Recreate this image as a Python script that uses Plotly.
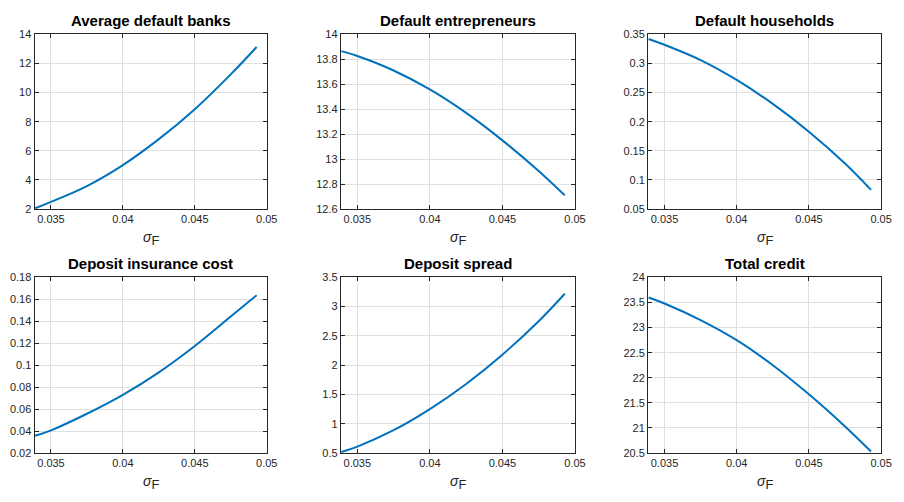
import plotly.graph_objects as go

sigma_f = [0.0339, 0.035, 0.0375, 0.04, 0.0425, 0.045, 0.0475, 0.0493]

avg_default_banks = [2.05, 2.49, 3.58, 5.02, 6.80, 8.86, 11.25, 13.13]
default_entrepreneurs = [13.865, 13.826, 13.71, 13.558, 13.37, 13.15, 12.905, 12.71]
default_households = [0.342, 0.332, 0.3058, 0.2717, 0.2305, 0.1828, 0.128, 0.0828]
deposit_insurance_cost = [0.0357, 0.0407, 0.0558, 0.0730, 0.0935, 0.1175, 0.1443, 0.1637]
deposit_spread = [0.517, 0.61, 0.89, 1.25, 1.68, 2.18, 2.75, 3.22]
total_credit = [23.60, 23.48, 23.15, 22.75, 22.25, 21.67, 21.03, 20.53]

titles = ["Average default banks", "Default entrepreneurs", "Default households",
          "Deposit insurance cost", "Deposit spread", "Total credit"]
series = [avg_default_banks, default_entrepreneurs, default_households,
          deposit_insurance_cost, deposit_spread, total_credit]

x_tickvals = [0.035, 0.04, 0.045, 0.05]
x_ticktext = ["0.035", "0.04", "0.045", "0.05"]

y_ticks = [
    [2, 4, 6, 8, 10, 12, 14],
    [12.6, 12.8, 13, 13.2, 13.4, 13.6, 13.8, 14],
    [0.05, 0.1, 0.15, 0.2, 0.25, 0.3, 0.35],
    [0.02, 0.04, 0.06, 0.08, 0.1, 0.12, 0.14, 0.16, 0.18],
    [0.5, 1, 1.5, 2, 2.5, 3, 3.5],
    [20.5, 21, 21.5, 22, 22.5, 23, 23.5, 24],
]
y_ticktext = [
    ["2", "4", "6", "8", "10", "12", "14"],
    ["12.6", "12.8", "13", "13.2", "13.4", "13.6", "13.8", "14"],
    ["0.05", "0.1", "0.15", "0.2", "0.25", "0.3", "0.35"],
    ["0.02", "0.04", "0.06", "0.08", "0.1", "0.12", "0.14", "0.16", "0.18"],
    ["0.5", "1", "1.5", "2", "2.5", "3", "3.5"],
    ["20.5", "21", "21.5", "22", "22.5", "23", "23.5", "24"],
]

W, H = 904, 502
col_px = [(35, 270), (345, 582), (656, 892)]
row_px = [(29, 208), (278, 458)]

fig = go.Figure()
axis_color = "#262626"
grid_color = "#e0e0e0"
font_family = "Liberation Sans, Arial, sans-serif"

annotations = []
for i in range(6):
    r, c = divmod(i, 3)
    n = i + 1
    xa = "xaxis" if n == 1 else f"xaxis{n}"
    ya = "yaxis" if n == 1 else f"yaxis{n}"
    xref = "x" if n == 1 else f"x{n}"
    yref = "y" if n == 1 else f"y{n}"
    x0, x1 = col_px[c]
    y0, y1 = row_px[r]
    fig.add_trace(go.Scatter(x=sigma_f, y=series[i], mode="lines",
                             line=dict(color="#0072BD", width=2, shape="spline", smoothing=1.0),
                             xaxis=xref, yaxis=yref, showlegend=False, hoverinfo="skip"))
    yt = y_ticks[i]
    common = dict(showline=True, linecolor=axis_color, linewidth=1, mirror="ticks",
                  ticks="inside", ticklen=4, tickcolor=axis_color, tickwidth=1,
                  showgrid=True, gridcolor=grid_color, gridwidth=1, zeroline=False,
                  tickfont=dict(family=font_family, size=11, color=axis_color))
    fig.update_layout({
        xa: dict(domain=[x0 / W, x1 / W], range=[0.03386, 0.05], tickvals=x_tickvals,
                 ticktext=x_ticktext, anchor=yref, **common),
        ya: dict(domain=[1 - y1 / H, 1 - y0 / H], range=[yt[0], yt[-1]], tickvals=yt,
                 ticktext=y_ticktext[i], anchor=xref, **common),
    })
    xc = (x0 + x1) / 2 / W
    annotations.append(dict(text="<b>" + titles[i] + "</b>", x=xc, y=1 - (y0 - 14) / H,
                            xref="paper", yref="paper", showarrow=False,
                            font=dict(family=font_family, size=15, color="black"),
                            xanchor="center", yanchor="middle"))
    annotations.append(dict(text="<i>σ</i><sub><span style='font-size:13px'>F</span></sub>",
                            x=xc, y=1 - (y1 + 30) / H,
                            xref="paper", yref="paper", showarrow=False,
                            font=dict(family=font_family, size=14, color=axis_color),
                            xanchor="center", yanchor="middle"))

fig.update_layout(width=W, height=H, margin=dict(l=0, r=0, t=0, b=0),
                  paper_bgcolor="white", plot_bgcolor="white",
                  annotations=annotations, showlegend=False)

fig.write_html("out.html")
